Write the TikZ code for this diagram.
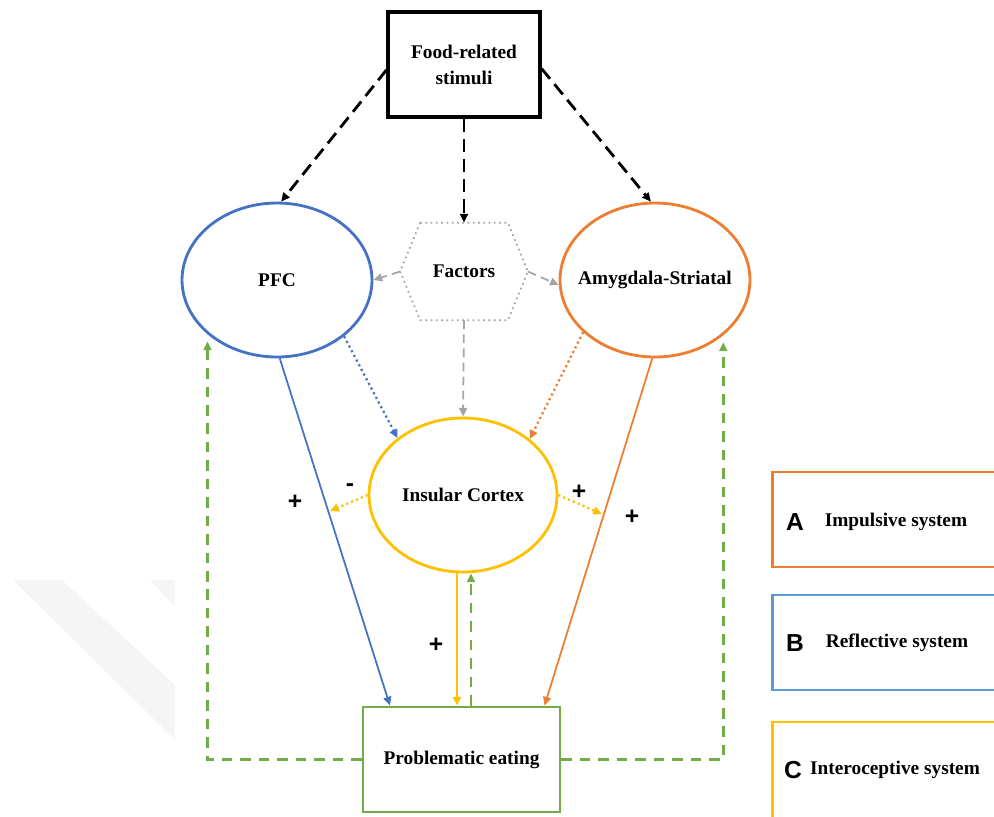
\documentclass[tikz,border=0pt]{standalone}
\usepackage{fontspec}
\setmainfont{Liberation Serif}
\newfontfamily\lsans{Liberation Sans}
\usetikzlibrary{arrows.meta,shapes.geometric}
\definecolor{pfcblue}{HTML}{4472C4}
\definecolor{amyorange}{HTML}{ED7D31}
\definecolor{insyellow}{HTML}{FFC000}
\definecolor{eatgreen}{HTML}{70AD47}
\definecolor{factgray}{HTML}{A5A5A5}
\definecolor{legblue}{HTML}{5B9BD5}

\begin{document}
\begin{tikzpicture}[x=0.02cm,y=-0.02cm,
  lbl/.style={font=\fontsize{11}{14.8}\selectfont\bfseries,align=center},
  region/.style={ellipse,draw,line width=1.6pt,minimum width=3.8cm,minimum height=3.08cm,inner sep=0pt,lbl},
  box/.style={rectangle,draw,inner sep=0pt,lbl},
  legbox/.style={rectangle,draw,line width=1.5pt,anchor=west,minimum width=6cm,minimum height=1.9cm},
  letter/.style={font=\lsans\bfseries\fontsize{14}{14}\selectfont},
  sign/.style={font=\lsans\bfseries\fontsize{14}{14}\selectfont},
  tip/.style={-{Triangle[length=5pt,width=4.5pt]}},
  blackdash/.style={tip,line width=1.6pt,dash pattern=on 7.5pt off 4pt},
  greydash/.style={tip,factgray,line width=1pt,dash pattern=on 5pt off 3pt},
  greendash/.style={tip,eatgreen,line width=1.4pt,dash pattern=on 6pt off 4.5pt},
  dots/.style={tip,line width=1.3pt,dash pattern=on 1.2pt off 1.8pt}]

\clip (0,0) rectangle (994,816);

% watermark
\fill[gray!8] (13,580) -- (62,580) -- (175,685) -- (175,740) -- cycle;
\fill[gray!8] (150,580) -- (175,580) -- (175,607) -- cycle;

\node[box,line width=1.8pt,minimum width=3.04cm,minimum height=2.1cm] (food) at (464,64.5) {Food-related\\stimuli};
\node[region,draw=pfcblue] (pfc) at (277,280) {PFC};
\node[region,draw=amyorange] (amyg) at (655,280) {\makebox[0pt]{Amygdala-Striatal}};
\node[lbl,minimum width=2.54cm,minimum height=1.94cm,inner sep=0pt] (factors) at (464,271.5) {Factors};
\node[region,draw=insyellow,minimum width=3.76cm] (insula) at (463,495) {\makebox[0pt]{Insular Cortex}};
\node[box,draw=eatgreen,line width=1.6pt,minimum width=3.94cm,minimum height=2.1cm] (prob) at (461.5,759.5) {Problematic eating};

\draw[factgray,line width=1pt,dash pattern=on 1pt off 2pt]
  ([xshift=0.4cm]factors.north west) -- ([xshift=-0.4cm]factors.north east) -- (factors.east)
  -- ([xshift=-0.4cm]factors.south east) -- ([xshift=0.4cm]factors.south west) -- (factors.west) -- cycle;

\draw[blackdash] (food.184) -- (pfc.87);
\draw[blackdash] (food.south) -- (factors.north);
\draw[blackdash] (food.-3) -- (amyg.93);

\draw[greydash] (factors.west) -- (pfc.east);
\draw[greydash] (factors.east) -- (amyg.183);
\draw[greydash] (factors.south) -- (insula.north);

\draw[dots,pfcblue] (pfc.-40) -- (insula.139);
\draw[dots,amyorange] (amyg.216) -- (insula.40);

\draw[tip,pfcblue,line width=1pt] (pfc.-88) -- (prob.143);
\draw[tip,amyorange,line width=1pt] (amyg.-92) -- (prob.33);
\draw[tip,insyellow,line width=1.4pt] ([xshift=-0.12cm]insula.south) -- ([xshift=-0.12cm]insula.south |- prob.north);
\draw[greendash] ([xshift=0.19cm]prob.north) -- ([xshift=0.19cm]prob.north |- insula.south);

\coordinate (negend) at (330,511);
\coordinate (posend) at (602,514);
\draw[dots,insyellow] (insula.west) -- (negend);
\draw[dots,insyellow] (insula.east) -- (posend);

\draw[greendash,shorten >=4pt] (prob.west) -| (pfc.218.5);
\draw[greendash,shorten >=4pt] (prob.east) -| (amyg.-39);

\node[sign] (minus) at (350,488) {-};
\node[sign] (plusl) at (295,502) {+};
\node[sign] (plusr) at (579,492) {+};
\node[sign] (plusa) at (632,517) {+};
\node[sign] (plusi) at (436,645) {+};

\node[legbox,draw=amyorange] (boxa) at (771,519.5) {};
\node[legbox,draw=legblue] (boxb) at (771,642.5) {};
\node[legbox,draw=insyellow,minimum height=2.2cm] (boxc) at (771,777) {};
\node[letter] (leta) at (795,522) {A};
\node[letter] (letb) at (795,643) {B};
\node[letter] (letc) at (793,770) {C};
\node[lbl] (txta) at (896,522) {Impulsive system};
\node[lbl] (txtb) at (897,643) {Reflective system};
\node[lbl] (txtc) at (895,770) {Interoceptive system};
\end{tikzpicture}
\end{document}
